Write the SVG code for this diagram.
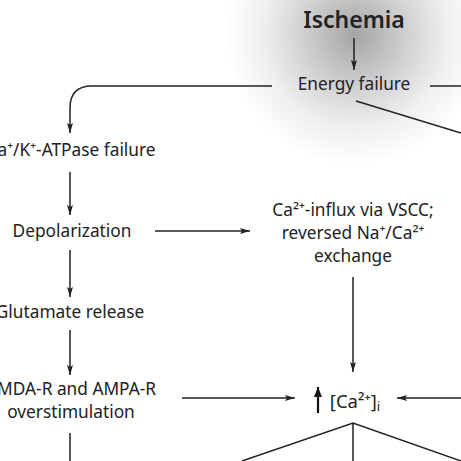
<svg xmlns="http://www.w3.org/2000/svg" width="461" height="461" viewBox="0 0 461 461">
<defs>
<radialGradient id="glow" cx="355" cy="35" r="130" gradientUnits="userSpaceOnUse">
<stop offset="0" stop-color="#a4a4a4"/>
<stop offset="0.35" stop-color="#cbcbcb"/>
<stop offset="0.7" stop-color="#eeeeee"/>
<stop offset="1" stop-color="#ffffff"/>
</radialGradient>
<marker id="ah" viewBox="0 0 10 6" refX="10" refY="3" markerWidth="10" markerHeight="6" markerUnits="userSpaceOnUse" orient="auto">
<path d="M0,0 L10,3 L0,6 L2,3 Z" fill="#222"/>
</marker>
<marker id="ahb" viewBox="0 0 10 8" refX="10" refY="4" markerWidth="10" markerHeight="8" markerUnits="userSpaceOnUse" orient="auto">
<path d="M0,0 L10,4 L0,8 Z" fill="#111"/>
</marker>
<style>
text{font-family:"Noto Sans","Open Sans","DejaVu Sans",sans-serif;fill:#222;font-size:17.3px;text-anchor:middle}
.t{font-size:23px;font-weight:600}
.c{fill:none;stroke:#222;stroke-width:1.5}
.a{marker-end:url(#ah)}
</style>
</defs>
<rect width="461" height="461" fill="#fff"/>
<circle cx="355" cy="35" r="130" fill="url(#glow)"/>
<g id="connectors">
<path class="c a" d="M354,38 V70"/>
<path class="c a" d="M272,86 H92 Q70,86 70,108 V133"/>
<path class="c" d="M430,86 H461"/>
<path class="c" d="M356,101 L461,133"/>
<path class="c a" d="M70,172 V215"/>
<path class="c a" d="M155,231 H250"/>
<path class="c a" d="M70,250 V297"/>
<path class="c a" d="M353,277 V372"/>
<path class="c a" d="M70,330 V375"/>
<path class="c a" d="M182,398 H295"/>
<path class="c a" d="M461,398 H397"/>
<path d="M318,413 V387" fill="none" stroke="#111" stroke-width="2.2" marker-end="url(#ahb)"/>
<path class="c" d="M242,461 L353,423 L461,461 M353,423 V461"/>
<path class="c" d="M70,433 V461"/>
</g>
<g id="ischemia"><text class="t" x="354" y="28">Ischemia</text></g>
<g id="energy"><text x="354" y="90">Energy failure</text></g>
<g id="atpase"><text x="70" y="156">Na⁺/K⁺-ATPase failure</text></g>
<g id="depol"><text x="72" y="237">Depolarization</text></g>
<g id="influx"><text x="353" y="216">Ca²⁺-influx via VSCC;</text><text x="353" y="239">reversed Na⁺/Ca²⁺</text><text x="353" y="262">exchange</text></g>
<g id="glutamate"><text x="70" y="318">Glutamate release</text></g>
<g id="nmda"><text x="70" y="395">NMDA-R and AMPA-R</text><text x="71" y="418">overstimulation</text></g>
<g id="ca"><text x="355" y="408" style="font-size:18.5px">[Ca²⁺]<tspan dy="3" style="font-size:13px">i</tspan></text></g>
</svg>
